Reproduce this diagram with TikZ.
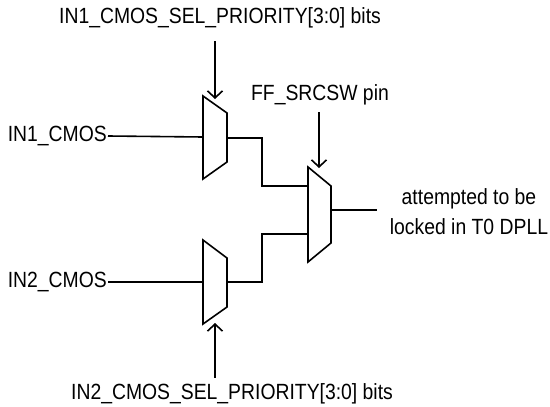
\documentclass[tikz,border=0pt]{standalone}
\usepackage{fontspec}
\setmainfont[FakeStretch=0.88]{Liberation Sans}
\usetikzlibrary{arrows.meta}
\tikzset{
  wire/.style={line width=1.6pt, line join=miter},
  selarrow/.style={line width=1.6pt, -{Straight Barb[length=7pt,width=15pt,line width=1.6pt]}},
  lbl/.style={font=\fontsize{22}{30}\selectfont, inner sep=1pt}
}
\begin{document}
\begin{tikzpicture}[x=1pt,y=-1pt]
\useasboundingbox (0,0) rectangle (550,407);
\def\muxone{(203,96) -- (227,113) -- (227,162) -- (203,179) -- cycle}
\def\muxtwo{(203,240) -- (227,258) -- (227,307) -- (203,324) -- cycle}
\def\muxout{(308,167) -- (331,186) -- (331,243) -- (308,262) -- cycle}
% the three multiplexers
\draw[wire] \muxone;
\draw[wire] \muxtwo;
\draw[wire] \muxout;
% ports
\coordinate (m1in) at (203,137);
\coordinate (m1out) at (227,138);
\coordinate (m1sel) at (215,99);
\coordinate (m2in) at (203,282);
\coordinate (m2out) at (227,282);
\coordinate (m2sel) at (215,323);
\coordinate (m3ina) at (308,186);
\coordinate (m3inb) at (308,234);
\coordinate (m3out) at (331,210);
\coordinate (m3sel) at (319,168);
\coordinate (dest) at (377,210);
% labels
\node[lbl, anchor=east] (in1) at (108,136) {IN1\_CMOS};
\node[lbl, anchor=east] (in2) at (108,282) {IN2\_CMOS};
\node[lbl] (selone) at (220,18) {IN1\_CMOS\_SEL\_PRIORITY[3:0] bits};
\node[lbl] (seltwo) at (232,394) {IN2\_CMOS\_SEL\_PRIORITY[3:0] bits};
\node[lbl] (ffpin) at (320,95) {FF\_SRCSW pin};
\node[lbl, align=center] (locked) at (469,212) {attempted to be\\locked in T0 DPLL};
% connections
\draw[wire] (in1.east) -- (m1in);
\draw[wire] (in2.east) -- (m2in);
\draw[wire] (m1out) -| (262,186) -- (m3ina);
\draw[wire] (m2out) -| (262,234) -- (m3inb);
\draw[wire] (m3out) -- (dest);
\draw[selarrow, shorten <=12pt] (selone.south -| m1sel) -- (m1sel);
\draw[selarrow, shorten <=5pt] (seltwo.north -| m2sel) -- (m2sel);
\draw[selarrow, shorten <=6pt] (ffpin.south -| m3sel) -- (m3sel);
\end{tikzpicture}
\end{document}
